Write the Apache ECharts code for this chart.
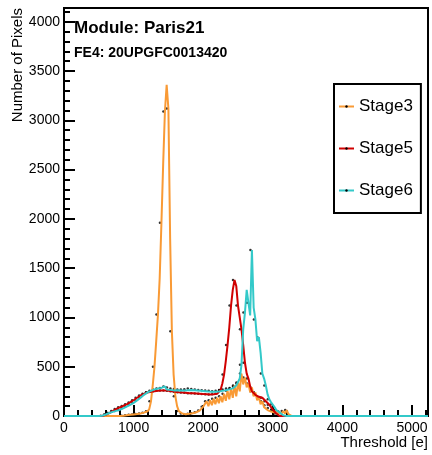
<!DOCTYPE html>
<html>
<head>
<meta charset="utf-8">
<title>Module Paris21 - threshold</title>
<script src="https://cdn.jsdelivr.net/npm/echarts@6.0.0/dist/echarts.min.js"></script>
<style>
  html, body { margin: 0; padding: 0; background: #fff; }
  #chart { width: 432px; height: 455px; }
</style>
</head>
<body>
<div id="chart"></div>
<script>
// threshold bins [e]
var threshold = [0,
  500, 525, 550, 575, 600, 625, 650, 675, 700, 725, 750, 775,
  800, 825, 850, 875, 900, 925, 950, 975, 1000, 1025, 1050, 1075,
  1100, 1125, 1150, 1175, 1200, 1225, 1250, 1275, 1300, 1325, 1350, 1375,
  1400, 1425, 1450, 1475, 1500, 1525, 1550, 1575, 1600, 1625, 1650, 1675,
  1700, 1725, 1750, 1775, 1800, 1825, 1850, 1875, 1900, 1925, 1950, 1975,
  2000, 2025, 2050, 2075, 2100, 2125, 2150, 2175, 2200, 2225, 2250, 2275,
  2300, 2325, 2350, 2375, 2400, 2425, 2450, 2475, 2500, 2525, 2550, 2575,
  2600, 2625, 2650, 2675, 2700, 2725, 2750, 2775, 2800, 2825, 2850, 2875,
  2900, 2925, 2950, 2975, 3000, 3025, 3050, 3075, 3100, 3125, 3150, 3175,
  3200, 3225, 3250, 3275, 3300,
  5230];

var stage3 = [0,
  0, 0, 0, 0, 0, 0, 0, 0, 0, 0, 0, 0,
  0, 0, 3, 6, 8, 10, 12, 14, 16, 18, 20, 23,
  26, 30, 34, 40, 48, 70, 150, 310, 500, 760, 1030, 1400,
  1960, 2560, 3090, 3360, 3120, 1800, 860, 420, 200, 100, 50, 30,
  25, 20, 18, 20, 22, 25, 28, 32, 38, 45, 55, 70,
  95, 115, 150, 100, 160, 110, 175, 120, 185, 130, 200, 140,
  225, 155, 255, 170, 280, 185, 310, 200, 340, 250, 430, 320,
  390, 290, 330, 240, 290, 200, 240, 160, 190, 120, 150, 90,
  110, 60, 80, 45, 60, 35, 60, 30, 45, 25, 50, 25,
  60, 20, 10, 0, 0,
  0];

var stage5 = [0,
  0, 0, 0, 5, 12, 20, 30, 40, 50, 60, 70, 78,
  88, 95, 102, 110, 118, 128, 138, 150, 160, 172, 185, 195,
  208, 215, 225, 232, 238, 230, 245, 238, 250, 240, 255, 245,
  258, 248, 260, 245, 255, 240, 250, 238, 245, 232, 240, 230,
  238, 228, 235, 225, 232, 222, 230, 220, 228, 218, 225, 215,
  222, 212, 220, 210, 218, 210, 220, 212, 225, 240, 265, 330,
  420, 560, 720, 900, 1120, 1280, 1380, 1320, 1120, 1000, 880, 720,
  540, 430, 380, 300, 250, 230, 215, 205, 195, 200, 185, 170,
  150, 130, 115, 90, 65, 45, 25, 10, 0, 0, 0, 0,
  0, 0, 0, 0, 0,
  0];

var stage6 = [0,
  0, 0, 3, 8, 15, 22, 30, 36, 42, 48, 52, 57,
  62, 70, 78, 85, 95, 102, 112, 120, 132, 145, 158, 170,
  185, 200, 215, 228, 240, 250, 255, 262, 270, 262, 278, 270,
  285, 275, 300, 270, 290, 265, 280, 260, 275, 262, 270, 258,
  268, 260, 272, 262, 280, 265, 275, 262, 270, 258, 265, 255,
  262, 252, 258, 248, 255, 245, 250, 245, 255, 248, 262, 255,
  270, 262, 280, 270, 285, 280, 300, 310, 330, 380, 520, 880,
  1050, 1280, 1150, 1020, 1685, 1100, 980, 760, 800, 640, 430, 380,
  310, 220, 170, 140, 120, 90, 60, 45, 35, 20, 8, 3,
  0, 0, 0, 0, 0,
  0];

var stageNames = ['Stage3', 'Stage5', 'Stage6'];
var stageColors = ['#f99a35', '#d00000', '#33c9c9'];

var font = 'Liberation Sans, Arial, Helvetica, sans-serif';

function toPairs(values) {
  return threshold.map(function (t, i) { return [t, values[i]]; });
}

// black markers, every other bin, drawn under the coloured line
function toDots(values) {
  return toPairs(values).filter(function (p, i) { return i % 2 === 1 && p[1] > 0; });
}

function plain(v) { return String(v); }

var myChart = echarts.init(document.getElementById('chart'));

var series = [];
[stage3, stage5, stage6].forEach(function (values, k) {
  series.push({
    type: 'scatter',
    data: toDots(values),
    symbolSize: 2.5,
    symbolOffset: [-1.5, 0],
    itemStyle: { color: '#000' },
    z: 1,
    silent: true
  });
});
[stage3, stage5, stage6].forEach(function (values, k) {
  series.push({
    name: stageNames[k],
    type: 'line',
    data: toPairs(values),
    showSymbol: false,
    symbol: 'circle',
    itemStyle: { color: '#000' },
    lineStyle: { color: stageColors[k], width: 2 },
    clip: false,
    z: 2 + k,
    silent: true
  });
});

var option = {
  animation: false,
  backgroundColor: '#fff',
  grid: {
    left: 64, right: 4, top: 8, bottom: 39,
    show: true, borderColor: '#000', borderWidth: 2,
    outerBoundsMode: 'none'
  },
  legend: {
    data: stageNames,
    orient: 'vertical',
    left: 334, top: 84,
    padding: [14, 8, 14, 4],
    itemWidth: 15, itemHeight: 3, itemGap: 25,
    backgroundColor: '#fff',
    borderColor: '#000', borderWidth: 2, borderRadius: 0,
    selectedMode: false,
    textStyle: { color: '#000', fontSize: 17, fontFamily: font }
  },
  xAxis: {
    type: 'value', min: 0, max: 5230, interval: 1000,
    axisLine: { onZero: false, lineStyle: { color: '#000', width: 2 } },
    axisTick: { inside: true, length: 11, lineStyle: { color: '#000', width: 2 } },
    minorTick: { show: true, splitNumber: 5, length: 6, lineStyle: { color: '#000', width: 2 } },
    axisLabel: { color: '#000', fontSize: 14, fontFamily: font, margin: 5, showMaxLabel: false, formatter: plain },
    splitLine: { show: false }
  },
  yAxis: {
    type: 'value', min: 0, max: 4140, interval: 500,
    axisLine: { onZero: false, lineStyle: { color: '#000', width: 2 } },
    axisTick: { inside: true, length: 11, lineStyle: { color: '#000', width: 2 } },
    minorTick: { show: true, splitNumber: 5, length: 6, lineStyle: { color: '#000', width: 2 } },
    axisLabel: { color: '#000', fontSize: 14, fontFamily: font, margin: 4, showMaxLabel: false, formatter: plain },
    splitLine: { show: false }
  },
  graphic: [
    { type: 'text', x: 74, y: 28, style: { text: 'Module: Paris21', font: 'bold 17px ' + font, fill: '#000', verticalAlign: 'middle' } },
    { type: 'text', x: 74, y: 53, style: { text: 'FE4: 20UPGFC0013420', font: 'bold 14px ' + font, fill: '#000', verticalAlign: 'middle' } },
    { type: 'text', x: 18, y: 8, rotation: Math.PI / 2, style: { text: 'Number of Pixels', font: '15px ' + font, fill: '#000', align: 'right', verticalAlign: 'middle' } },
    { type: 'text', x: 428, y: 443, style: { text: 'Threshold [e]', font: '15px ' + font, fill: '#000', align: 'right', verticalAlign: 'middle' } }
  ],
  series: series
};

myChart.setOption(option);
</script>
</body>
</html>
